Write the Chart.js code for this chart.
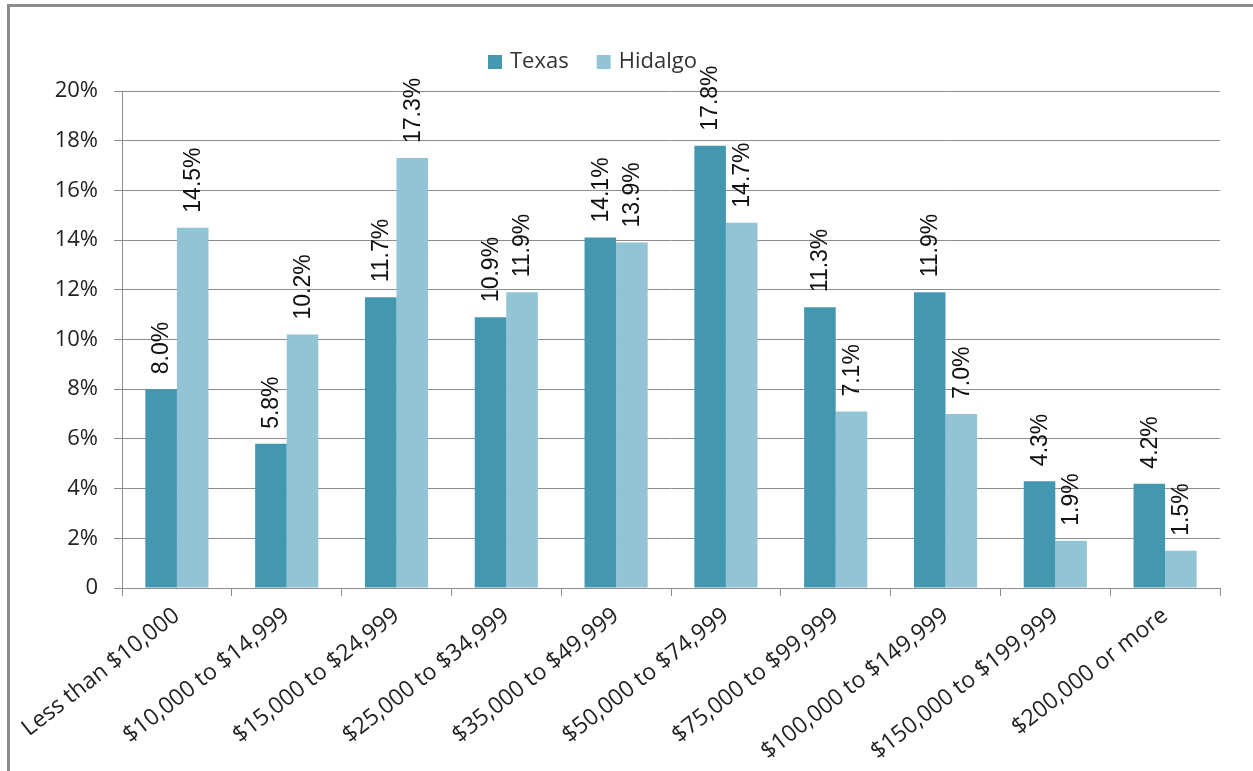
<!DOCTYPE html>
<html>
<head>
<meta charset="utf-8">
<title>Household income: Texas vs Hidalgo</title>
<script src="https://cdn.jsdelivr.net/npm/chart.js@4"></script>
<style>
  html, body { margin: 0; padding: 0; background: #fff; overflow: hidden; width: 1253px; height: 771px; }
  .rule { position: absolute; background: #8c8c8c; }
  #ruleTop { left: 7px; top: 4px; width: 1246px; height: 3px; }
  #ruleLeft { left: 7px; top: 4px; width: 3px; height: 767px; }
  #wrap { position: absolute; left: 0; top: 0; width: 1253px; height: 771px; }
</style>
</head>
<body>
<div class="rule" id="ruleTop"></div>
<div class="rule" id="ruleLeft"></div>
<div id="wrap"><canvas id="incomeChart"></canvas></div>
<script>
const incomeBrackets = [
  'Less than $10,000', '$10,000 to $14,999', '$15,000 to $24,999',
  '$25,000 to $34,999', '$35,000 to $49,999', '$50,000 to $74,999',
  '$75,000 to $99,999', '$100,000 to $149,999', '$150,000 to $199,999',
  '$200,000 or more'
];
const texasShare = [8.0, 5.8, 11.7, 10.9, 14.1, 17.8, 11.3, 11.9, 4.3, 4.2];
const hidalgoShare = [14.5, 10.2, 17.3, 11.9, 13.9, 14.7, 7.1, 7.0, 1.9, 1.5];
const yMax = 20;
const yStep = 2;

const TEXAS_COLOR = '#4398b0';
const HIDALGO_COLOR = '#93c4d5';
const GRID_COLOR = '#8c8c8c';
const AXIS_FONT = { family: '"Open Sans", sans-serif', size: 22 };

// value labels, rotated, just above each bar
const barLabels = {
  id: 'barLabels',
  afterDatasetsDraw(chart) {
    const ctx = chart.ctx;
    ctx.save();
    ctx.font = '23px "Liberation Sans", Arial, sans-serif';
    ctx.fillStyle = '#111';
    ctx.textAlign = 'left';
    ctx.textBaseline = 'middle';
    chart.data.datasets.forEach((ds, i) => {
      chart.getDatasetMeta(i).data.forEach((bar, j) => {
        ctx.save();
        ctx.translate(bar.x + 1, bar.y - 15);
        ctx.rotate(-Math.PI / 2);
        ctx.fillText(ds.data[j].toFixed(1) + '%', 0, 0);
        ctx.restore();
      });
    });
    ctx.restore();
  }
};

// legend row above the plot
const topLegend = {
  id: 'topLegend',
  afterDraw(chart) {
    const ctx = chart.ctx;
    ctx.save();
    ctx.font = '22px "Open Sans", sans-serif';
    ctx.textBaseline = 'middle';
    const box = 14, gap = 8, spacing = 28, cy = 62;
    const items = chart.data.datasets.map(ds => ({
      label: ds.label, color: ds.backgroundColor,
      w: box + gap + ctx.measureText(ds.label).width
    }));
    let x = 488;
    items.forEach(it => {
      ctx.fillStyle = it.color;
      ctx.fillRect(x, cy - box / 2, box, box);
      ctx.fillStyle = '#333';
      ctx.fillText(it.label, x + box + gap, cy);
      x += it.w + spacing;
    });
    ctx.restore();
  }
};

new Chart(document.getElementById('incomeChart'), {
  type: 'bar',
  data: {
    labels: incomeBrackets,
    datasets: [
      { label: 'Texas', data: texasShare, backgroundColor: TEXAS_COLOR },
      { label: 'Hidalgo', data: hidalgoShare, backgroundColor: HIDALGO_COLOR }
    ]
  },
  options: {
    responsive: true,
    maintainAspectRatio: false,
    animation: false,
    layout: { padding: { left: 0, right: 33, top: 91, bottom: 0 } },
    datasets: { bar: { barPercentage: 1, categoryPercentage: 0.575, borderWidth: 0 } },
    plugins: {
      legend: { display: false },
      tooltip: { enabled: false }
    },
    scales: {
      x: {
        grid: {
          offset: true, drawOnChartArea: false, drawTicks: true,
          tickLength: 8, color: GRID_COLOR
        },
        border: { color: GRID_COLOR },
        ticks: {
          color: '#222', font: { family: '"Open Sans", sans-serif', size: 23 },
          padding: 6, minRotation: 38, maxRotation: 38, autoSkip: false
        },
        afterFit(scale) { scale.height = 183; }
      },
      y: {
        min: 0, max: yMax,
        grid: { color: GRID_COLOR, tickLength: 8 },
        border: { color: GRID_COLOR },
        ticks: {
          stepSize: yStep, color: '#222', font: AXIS_FONT, padding: 16,
          callback: v => v === 0 ? '0' : v + '%'
        },
        afterFit(scale) { scale.width = 122; }
      }
    }
  },
  plugins: [barLabels, topLegend]
});
</script>
</body>
</html>
